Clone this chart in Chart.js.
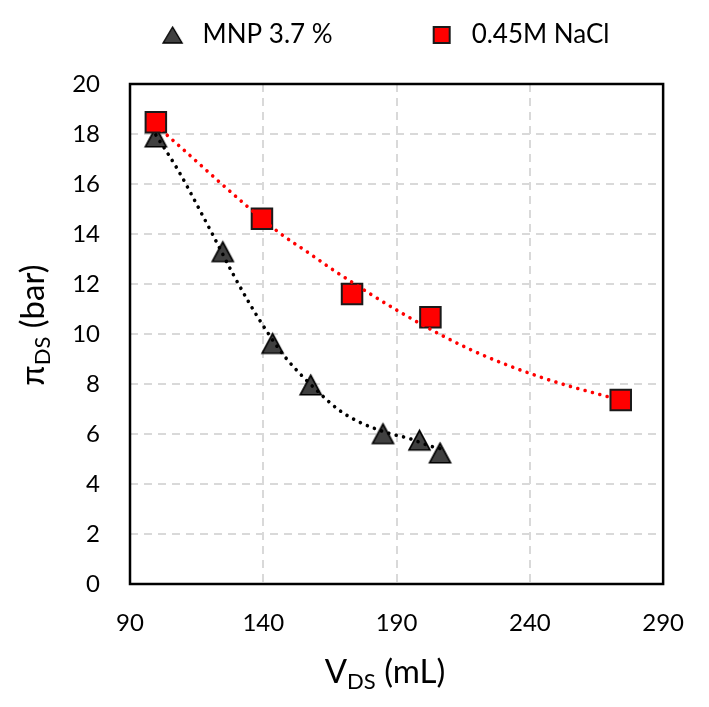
<!DOCTYPE html>
<html><head><meta charset="utf-8">
<script src="https://cdn.jsdelivr.net/npm/chart.js@4"></script>
<style>html,body{margin:0;padding:0;background:#fff}</style>
</head><body>
<canvas id="c" width="709" height="707"></canvas>
<script>
// ---- data ----
const seriesNames = ['MNP 3.7 %', '0.45M NaCl'];
const mnpX = [99.7, 124.8, 143.5, 157.8, 184.9, 198.6, 206.3];
const mnpY = [17.88, 13.29, 9.62, 7.96, 6.01, 5.75, 5.24];
const naclX = [99.7, 139.5, 173.3, 202.7, 274.1];
const naclY = [18.47, 14.61, 11.6, 10.67, 7.36];
// dotted trend lines
const mnpTrendX = [99.7, 108.0, 115.5, 121.3, 128.5, 134.8, 141.0, 148.1, 161.5, 168.4, 175.8, 187.0, 194.5, 202.6, 206.3];
const mnpTrendY = [17.96, 16.56, 15.09, 13.92, 12.43, 11.23, 10.16, 9.09, 7.6, 6.96, 6.49, 6.03, 5.83, 5.52, 5.42];
const naclTrendX = [99.7, 104.3, 134.8, 146.0, 157.2, 167.1, 193.2, 218.1, 244.2, 267.9, 274.1];
const naclTrendY = [18.35, 17.92, 15.03, 14.05, 13.23, 12.5, 10.76, 9.36, 8.27, 7.53, 7.36];
const xTicks = [90, 140, 190, 240, 290];
const yTicks = [0, 2, 4, 6, 8, 10, 12, 14, 16, 18, 20];

const FONT = "Lato, 'Liberation Sans', sans-serif";

function triCanvas(w, h, lw) {
  const pad = Math.ceil(lw) + 1;
  const c = document.createElement('canvas');
  c.width = Math.ceil(w + 2 * pad); c.height = Math.ceil(h + 2 * pad);
  const g = c.getContext('2d');
  const cx = c.width / 2, cy = c.height / 2;
  g.beginPath();
  g.moveTo(cx, cy - h / 2);
  g.lineTo(cx + w / 2, cy + h / 2);
  g.lineTo(cx - w / 2, cy + h / 2);
  g.closePath();
  g.fillStyle = '#404040'; g.fill();
  g.lineWidth = lw; g.strokeStyle = '#000'; g.lineJoin = 'miter'; g.stroke();
  return c;
}
function sqCanvas(s, lw) {
  const c = document.createElement('canvas');
  c.width = s + 2; c.height = s + 2;
  const g = c.getContext('2d');
  g.fillStyle = '#ff0000'; g.fillRect(1 + lw / 2, 1 + lw / 2, s - lw, s - lw);
  g.lineWidth = lw; g.strokeStyle = '#1a1a1a'; g.strokeRect(1 + lw / 2, 1 + lw / 2, s - lw, s - lw);
  return c;
}
const triMark = triCanvas(21, 19.5, 1.6);
const triLegend = triCanvas(19, 16, 1.4);
const sqLegend = sqCanvas(18, 2);

const pts = (xs, ys) => xs.map((x, i) => ({x, y: ys[i]}));

const LEG_PAD = 92;
const deco = {
  id: 'deco',
  beforeLayout(chart) {
    const lg = chart.legend;
    if (lg && !lg.__p) {
      const f = lg.fit.bind(lg);
      lg.fit = function () { f(); this.height = 84; };
      lg.__p = true;
    }
  },
  afterLayout(chart) {
    const lg = chart.legend;
    if (lg) { lg.top -= 70; lg.left += 49.5; lg.right += 49.5; }
  },
  beforeDatasetsDraw(chart) {
    const {ctx, chartArea: a} = chart;
    ctx.save();
    ctx.strokeStyle = '#000'; ctx.lineWidth = 2.5;
    ctx.strokeRect(a.left, a.top, a.right - a.left, a.bottom - a.top);
    ctx.restore();
  },
  afterDraw(chart) {
    const ctx = chart.ctx;
    const drawParts = (parts, cx, base, rot) => {
      ctx.save();
      ctx.fillStyle = '#000';
      ctx.textBaseline = 'alphabetic';
      let total = 0;
      parts.forEach(p => { ctx.font = p.size + 'px ' + FONT; p.w = ctx.measureText(p.t).width; total += p.w; });
      ctx.translate(rot ? base : cx, rot ? cx : base);
      if (rot) ctx.rotate(-Math.PI / 2);
      let x = -total / 2;
      parts.forEach(p => { ctx.font = p.size + 'px ' + FONT; ctx.fillText(p.t, x, p.dy || 0); x += p.w; });
      ctx.restore();
    };
    drawParts([{t: 'V', size: 33}, {t: 'DS', size: 22, dy: 6}, {t: ' (mL)', size: 33}], 385, 683, false);
    drawParts([{t: 'π', size: 33}, {t: 'DS', size: 22, dy: 6}, {t: ' (bar)', size: 33}], 325, 44, true);
  }
};

new Chart(document.getElementById('c'), {
  type: 'scatter',
  data: {
    datasets: [
      {label: seriesNames[0], data: pts(mnpX, mnpY), pointStyle: triMark, pointRadius: 12, pointHoverRadius: 12,
       backgroundColor: '#404040', borderColor: '#000', showLine: false, order: 2},
      {label: seriesNames[1], data: pts(naclX, naclY), pointStyle: 'rect', pointRadius: 14.5, pointHoverRadius: 14.5,
       backgroundColor: '#ff0000', borderColor: '#1a1a1a', borderWidth: 2, showLine: false, order: 1},
      {label: 'trend1', data: pts(mnpTrendX, mnpTrendY), showLine: true, pointRadius: 0, borderColor: '#000',
       borderWidth: 3.6, borderDash: [0.01, 7.6], borderCapStyle: 'round', cubicInterpolationMode: 'monotone', order: 0},
      {label: 'trend2', data: pts(naclTrendX, naclTrendY), showLine: true, pointRadius: 0, borderColor: '#ff0000',
       borderWidth: 3.6, borderDash: [0.01, 7.6], borderCapStyle: 'round', cubicInterpolationMode: 'monotone', order: 0}
    ]
  },
  options: {
    responsive: false,
    animation: false,
    layout: {padding: {left: 0, right: 43, top: 0, bottom: 0}},
    plugins: {
      tooltip: {enabled: false},
      legend: {
        position: 'top',
        labels: {
          usePointStyle: true, boxHeight: 18, pointStyleWidth: 34, padding: LEG_PAD, color: '#000',
          font: {family: FONT, size: 26},
          filter: it => it.datasetIndex < 2,
          sort: (a, b) => a.datasetIndex - b.datasetIndex,
          generateLabels(chart) {
            const items = Chart.defaults.plugins.legend.labels.generateLabels(chart);
            items.forEach(it => { it.pointStyle = it.datasetIndex === 0 ? triLegend : sqLegend; });
            return items;
          }
        }
      }
    },
    scales: {
      x: {
        type: 'linear', min: 90, max: 290,
        afterBuildTicks: s => { s.ticks = xTicks.map(v => ({value: v})); },
        afterFit: s => { s.height = 123; },
        grid: {color: '#d9d9d9', lineWidth: 2, drawTicks: false},
        border: {display: false, dash: [8, 6]},
        ticks: {color: '#000', padding: 25, font: {family: FONT, size: 24}, maxRotation: 0}
      },
      y: {
        type: 'linear', min: 0, max: 20,
        afterBuildTicks: s => { s.ticks = yTicks.map(v => ({value: v})); },
        afterFit: s => { s.width = 130; },
        grid: {color: '#d9d9d9', lineWidth: 2, drawTicks: false},
        border: {display: false, dash: [8, 6]},
        ticks: {color: '#000', padding: 30, font: {family: FONT, size: 24}}
      }
    }
  },
  plugins: [deco]
});
</script>
</body></html>
